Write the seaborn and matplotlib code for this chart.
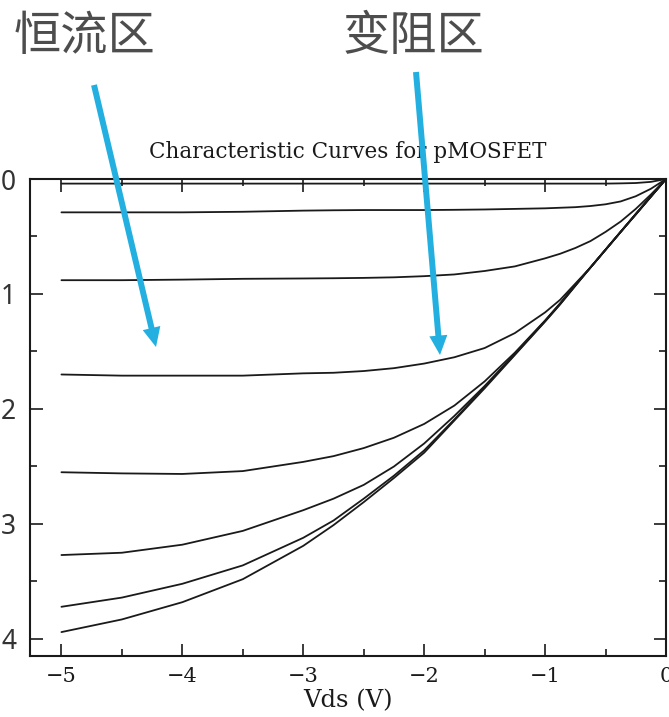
import numpy as np
import pandas as pd
import matplotlib
matplotlib.use('Agg')
import matplotlib.pyplot as plt
import seaborn as sns
from matplotlib.patches import FancyArrowPatch
from matplotlib.ticker import MultipleLocator

# Vds sample points (V) and drain current magnitude read for each gate voltage curve
vds = [-5, -4.5, -4, -3.5, -3, -2.75, -2.5, -2.25, -2, -1.75, -1.5, -1.25, -1,
       -0.875, -0.75, -0.625, -0.5, -0.375, -0.25, -0.125, 0]
id_c1 = [0.04, 0.04, 0.04, 0.04, 0.04, 0.04, 0.04, 0.04, 0.04, 0.04, 0.04, 0.04, 0.04,
         0.04, 0.04, 0.04, 0.04, 0.038, 0.035, 0.025, 0]
id_c2 = [0.29, 0.29, 0.29, 0.285, 0.275, 0.272, 0.27, 0.27, 0.27, 0.268, 0.265, 0.26, 0.255,
         0.25, 0.245, 0.235, 0.22, 0.195, 0.15, 0.085, 0]
id_c3 = [0.88, 0.88, 0.875, 0.868, 0.865, 0.863, 0.86, 0.855, 0.845, 0.83, 0.80, 0.76, 0.69,
         0.65, 0.60, 0.54, 0.46, 0.37, 0.26, 0.135, 0]
id_c4 = [1.70, 1.71, 1.71, 1.71, 1.69, 1.685, 1.67, 1.645, 1.605, 1.55, 1.47, 1.34, 1.16,
         1.05, 0.91, 0.77, 0.615, 0.46, 0.31, 0.155, 0]
id_c5 = [2.55, 2.56, 2.565, 2.54, 2.46, 2.41, 2.34, 2.25, 2.13, 1.97, 1.76, 1.51, 1.23,
         1.08, 0.92, 0.77, 0.615, 0.46, 0.305, 0.152, 0]
id_c6 = [3.27, 3.25, 3.18, 3.06, 2.88, 2.78, 2.66, 2.50, 2.30, 2.06, 1.80, 1.52, 1.235,
         1.085, 0.925, 0.77, 0.615, 0.46, 0.305, 0.152, 0]
id_c7 = [3.72, 3.64, 3.52, 3.36, 3.12, 2.97, 2.78, 2.58, 2.36, 2.09, 1.81, 1.525, 1.235,
         1.085, 0.925, 0.77, 0.615, 0.46, 0.305, 0.152, 0]
id_c8 = [3.94, 3.83, 3.68, 3.48, 3.19, 3.01, 2.81, 2.60, 2.38, 2.10, 1.82, 1.53, 1.24,
         1.09, 0.93, 0.77, 0.615, 0.46, 0.305, 0.152, 0]

xticks = [-5, -4, -3, -2, -1, 0]
yticks = [0, 1, 2, 3, 4]

title = 'Characteristic Curves for pMOSFET'
xlabel = 'Vds (V)'
region_labels = ['恒流区', '变阻区']

curves = [id_c1, id_c2, id_c3, id_c4, id_c5, id_c6, id_c7, id_c8]
df = pd.concat([pd.DataFrame({'Vds': vds, 'Id': c, 'curve': i}) for i, c in enumerate(curves)],
               ignore_index=True)

sns.set_theme(style='ticks')
plt.rcParams['font.family'] = ['DejaVu Serif']

fig = plt.figure(figsize=(6.69, 7.17), dpi=100)
ax = fig.add_axes([30 / 669, 1 - 656 / 717, 636 / 669, 477 / 717])

sns.lineplot(data=df, x='Vds', y='Id', hue='curve', palette=['#1a1a1a'] * len(curves),
             legend=False, linewidth=1.3, sort=False, estimator=None, ax=ax)

ax.set_xlim(-5.26, 0)
ax.set_ylim(4.148, 0)
ax.set_xticks(xticks)
ax.set_yticks(yticks)
ax.xaxis.set_minor_locator(MultipleLocator(0.5))
ax.yaxis.set_minor_locator(MultipleLocator(0.5))
ax.tick_params(which='both', direction='in', top=True, right=True, color='#1a1a1a', width=1.2)
ax.tick_params(which='major', length=9)
ax.tick_params(which='minor', length=5)
ax.tick_params(axis='x', labelsize=15, pad=8, colors='#1a1a1a')
ax.tick_params(axis='y', labelsize=19, pad=10, labelcolor='#333333')
for lab in ax.get_yticklabels():
    lab.set_family(['Noto Sans', 'DejaVu Sans'])
    lab.set_fontweight('light')
for sp in ax.spines.values():
    sp.set_linewidth(1.5)
    sp.set_color('#1a1a1a')

ax.set_xlabel(xlabel, fontsize=17.5, labelpad=2, color='#1a1a1a')
ax.set_ylabel('')
ax.set_title(title, fontsize=15.5, pad=15, color='#1a1a1a')

# region labels and arrows (figure pixel coordinates, origin bottom-left)
H = 717
fig.text(14 / 669, 1 - 37 / H, region_labels[0], fontsize=34, color='#4d4d4d',
         family=['Noto Sans CJK SC', 'DejaVu Sans'], va='center', ha='left')
fig.text(343 / 669, 1 - 37 / H, region_labels[1], fontsize=34, color='#4d4d4d',
         family=['Noto Sans CJK SC', 'DejaVu Sans'], va='center', ha='left')

blue = '#23b0e0'
for (x0, y0), (x1, y1) in [((94, 85), (156, 347)), ((416, 72), (440, 355))]:
    arr = FancyArrowPatch((x0, H - y0), (x1, H - y1), transform=None,
                          arrowstyle='simple,head_width=13,head_length=14,tail_width=4.3',
                          color=blue, lw=0, shrinkA=0, shrinkB=0)
    fig.add_artist(arr)

fig.savefig('out.png', dpi=100)
